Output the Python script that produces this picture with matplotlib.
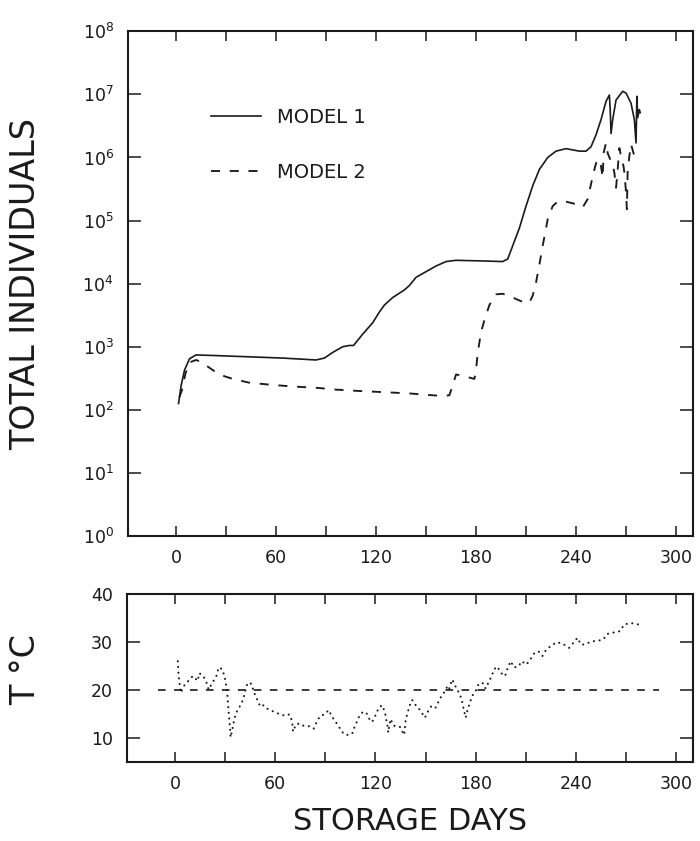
import matplotlib
matplotlib.use('Agg')
import matplotlib.pyplot as plt
from matplotlib.ticker import FixedLocator, NullLocator, FixedFormatter

plt.rcParams['font.family'] = ['DejaVu Sans']
plt.rcParams['lines.scale_dashes'] = False
plt.rcParams['mathtext.default'] = 'regular'

# ---------------- data ----------------
day_model1 = [1.5, 3.1, 5.1, 8.1, 12, 24, 44, 64, 84, 89, 94, 100, 104, 106.5, 112, 118, 122, 125,
              130, 137, 140, 144, 150, 156, 162, 168, 184, 196, 199, 202, 206, 210, 214, 218, 223,
              228, 234, 242, 246, 249, 252, 255, 258, 260, 260.5, 261, 262, 264, 268, 270, 273,
              275, 276, 276.5, 277, 278, 278.5]
model1 = [126, 245, 427, 646, 741, 724, 692, 661, 617, 661, 813, 1000, 1047, 1047, 1585, 2399,
          3548, 4571, 6026, 7943, 9333, 12590, 15490, 19050, 22390, 23440, 22910, 22390, 24550,
          39810, 75860, 169800, 354800, 645700, 1.0e6, 1.26e6, 1.38e6, 1.26e6, 1.26e6, 1.48e6,
          2.29e6, 3.98e6, 7.76e6, 9.77e6, 5.75e6, 2.40e6, 3.98e6, 8.13e6, 1.12e7, 1.05e7, 7.24e6,
          3.98e6, 1.70e6, 9.33e6, 4.27e6, 5.75e6, 5.13e6]

day_model2 = [2, 3.5, 5.7, 8, 12, 15, 22, 27, 34, 44, 56, 70, 84, 96, 108, 124, 140, 154, 160, 164,
              166, 168, 172, 179, 180, 181, 183, 185, 188, 192, 196, 202, 208, 212, 214, 216, 218,
              220, 223, 226, 229, 234, 240, 244, 247, 250, 252, 254, 255, 256, 256.5, 258, 259,
              260.5, 262, 263, 264, 265, 266, 267, 268.5, 269, 270, 270.5, 271, 272, 273, 275, 277]
model2 = [158, 204, 380, 562, 617, 575, 427, 355, 309, 269, 251, 234, 224, 209, 200, 191, 182, 170,
          166, 170, 245, 363, 347, 309, 427, 794, 1698, 2630, 4571, 6761, 6918, 6026, 5129, 5012,
          6457, 10470, 19950, 39810, 104700, 169800, 199500, 199500, 182000, 162200, 218800,
          501200, 812800, 933300, 724400, 478600, 1.17e6, 1.70e6, 1.17e6, 933300, 776200, 575400,
          331100, 645700, 1.41e6, 1.05e6, 724400, 575400, 281800, 151400, 645700, 1.05e6, 1.62e6,
          1.05e6, 812800]

day_T = [1.6, 1.8, 2.0, 2.6, 3.4, 5.6, 8.0, 10.6, 13.6, 14.4,
         16.4, 18.0, 19.4, 20.0, 25.0, 26.0, 28.0, 29.6, 31.0, 31.6,
         32.0, 32.4, 33.0, 33.2, 34.0, 35.0, 36.0, 37.6, 39.6, 41.0,
         42.0, 43.4, 45.6, 48.0, 49.6, 51.0, 53.0, 55.0, 57.0, 60.0,
         63.0, 66.0, 68.4, 69.6, 70.4, 70.6, 72.4, 74.6, 77.0, 79.6,
         83.0, 85.0, 87.0, 89.6, 92.0, 94.0, 96.4, 99.0, 101.0, 103.0,
         106.0, 107.4, 109.0, 110.4, 112.4, 114.4, 116.4, 118.0, 120.0, 122.0,
         124.0, 125.6, 126.4, 127.2, 127.6, 129.0, 131.0, 133.0, 135.0, 136.4,
         137.2, 138.0, 139.0, 140.4, 142.0, 143.6, 145.6, 147.6, 149.6, 151.6,
         153.6, 156.0, 157.6, 159.0, 161.0, 163.0, 164.0, 166.0, 168.0, 170.0,
         171.6, 172.4, 173.6, 174.0, 175.0, 176.4, 178.0, 180.0, 182.0, 184.4,
         186.0, 187.6, 189.6, 191.0, 193.0, 195.0, 197.6, 199.0, 201.0, 203.0,
         205.6, 207.6, 210.4, 213.0, 215.0, 217.6, 220.0, 222.4, 225.6, 228.4,
         232.0, 236.0, 241.0, 243.0, 245.0, 248.5, 252.0, 255.0, 256.5, 258.7,
         266.5, 269.0, 273.0, 277.0, 279.0]
temp_C = [26.0, 24.9, 23.3, 21.5, 19.4, 21.0, 21.9, 22.9, 21.9, 23.5,
          23.1, 22.2, 21.0, 20.1, 23.1, 24.7, 24.4, 22.9, 20.1, 17.4,
          15.6, 14.0, 11.5, 10.1, 11.3, 13.1, 14.6, 16.0, 17.0, 18.4,
          19.8, 21.5, 21.3, 18.8, 17.7, 16.5, 16.8, 16.1, 15.8, 15.3,
          14.9, 14.6, 14.9, 13.9, 12.5, 11.3, 12.8, 13.0, 12.5, 12.5,
          11.9, 13.5, 14.6, 14.9, 15.8, 14.4, 13.2, 11.8, 10.8, 10.6,
          10.8, 12.2, 13.5, 14.6, 15.4, 15.3, 13.9, 13.3, 14.7, 16.3,
          16.8, 15.4, 13.9, 12.5, 11.1, 13.9, 12.5, 12.5, 12.2, 11.1,
          10.6, 13.5, 14.9, 16.7, 17.9, 17.0, 16.3, 15.3, 14.2, 15.6,
          16.7, 16.3, 17.4, 18.4, 19.4, 20.7, 20.1, 22.2, 20.7, 19.4,
          18.1, 16.7, 14.9, 14.2, 15.6, 17.2, 18.8, 19.8, 21.4, 21.4,
          20.3, 21.5, 22.9, 24.3, 24.9, 23.6, 22.9, 24.4, 26.0, 24.7,
          24.9, 26.0, 25.3, 26.5, 27.6, 28.1, 27.1, 28.5, 29.3, 30.0,
          29.7, 28.8, 30.9, 29.5, 29.5, 30.0, 30.3, 30.4, 30.6, 31.7,
          32.3, 33.7, 34.0, 33.7, 33.9]

ref_T = 20
ref_days = [-10, 290]

x_ticks = [0, 60, 120, 180, 240, 300]
x_minor = [30, 90, 150, 210, 270]
x_ticklabels = ['0', '60', '120', '180', '240', '300']
log_exponents = [0, 1, 2, 3, 4, 5, 6, 7, 8]
t_ticks = [10, 20, 30, 40]
t_ticklabels = ['10', '20', '30', '40']

# ---------------- figure ----------------
W, H = 700, 841
fig = plt.figure(figsize=(W / 100, H / 100), dpi=100)
fig.patch.set_facecolor('white')


def rect(x0, y0, x1, y1):
    return [x0 / W, 1 - y1 / H, (x1 - x0) / W, (y1 - y0) / H]


ink = '#1a1a1a'
ax1 = fig.add_axes(rect(127.7, 31.3, 692.7, 536))
ax2 = fig.add_axes(rect(126.7, 594.3, 692.7, 761.7))

ax1.plot(day_model1, model1, color=ink, lw=1.2, label='MODEL 1')
ax1.plot(day_model2, model2, color=ink, lw=1.35, ls=(0, (6.5, 7)), label='MODEL 2')
ax1.set_yscale('log')
ax1.set_ylim(1, 1e8)
ax1.set_xlim(-29, 310)
ax1.yaxis.set_major_locator(FixedLocator([10.0 ** e for e in log_exponents]))
ax1.yaxis.set_minor_locator(NullLocator())
ax1.yaxis.set_major_formatter(FixedFormatter([r'$\mathregular{10^{%d}}$' % e for e in log_exponents]))

ax2.plot(day_T, temp_C, color=ink, lw=1.5, ls=(0, (0.1, 4.0)), dash_capstyle='round')
ax2.hlines(ref_T, ref_days[0], ref_days[1], color=ink, lw=1.2, linestyles=[(0, (5.5, 6))])
ax2.set_ylim(5, 40)
ax2.set_xlim(-29, 310)
ax2.set_yticks(t_ticks)
ax2.set_yticklabels(t_ticklabels)

for ax in (ax1, ax2):
    ax.set_xticks(x_ticks)
    ax.set_xticklabels(x_ticklabels)
    ax.set_xticks(x_minor, minor=True)
    ax.tick_params(which='both', direction='in', top=True, right=True, width=1.1,
                   color=ink, labelcolor=ink)
    ax.tick_params(axis='x', which='both', length=7.5, pad=9.5, labelsize=12.5)
    ax.tick_params(axis='y', which='both', length=9.5, pad=10, labelsize=12.5)
    for s in ax.spines.values():
        s.set_linewidth(1.5)
        s.set_color(ink)

ax1.legend(loc='upper left', bbox_to_anchor=(0.147, 0.848), frameon=False, fontsize=14,
           handlelength=2.6, handletextpad=0.8, labelspacing=1.85, borderpad=0,
           borderaxespad=0, labelcolor=ink)

fig.text(26 / W, 1 - 284 / H, 'TOTAL INDIVIDUALS', rotation=90, ha='center', va='center',
         fontsize=24, color=ink)
fig.text(26 / W, 1 - 670 / H, 'T °C', rotation=90, ha='center', va='center',
         fontsize=24, color=ink)
fig.text(410 / W, 1 - 822 / H, 'STORAGE DAYS', ha='center', va='center',
         fontsize=22, color=ink)

fig.savefig('out.png', dpi=100, facecolor='white')
